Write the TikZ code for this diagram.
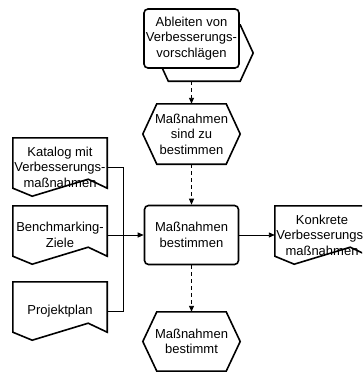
\documentclass[tikz,border=0pt]{standalone}
\usepackage{fontspec}
\setmainfont{Liberation Sans}
\usetikzlibrary{arrows.meta}
\begin{document}
\begin{tikzpicture}[x=1pt,y=-1pt,
  txt/.style={font=\fontsize{13}{15.5}\selectfont, align=center, inner sep=0pt},
  fnbox/.style={txt, draw, line width=1.6pt, rounded corners=4pt, fill=white,
                minimum width=95pt, minimum height=59pt},
  evbox/.style={txt, minimum width=97pt, minimum height=60pt},
  docbox/.style={txt, minimum width=94pt, minimum height=58pt},
  outline/.style={line width=1.6pt, line join=miter},
  link/.style={line width=0.9pt},
  flow/.style={link, -{Triangle[length=6pt,width=5pt]}},
  ctl/.style={flow, dash pattern=on 4pt off 3pt}
]
\useasboundingbox (0,0) rectangle (362,372);
\clip (0,0) rectangle (362,372);

% process interface: hexagon behind a function box
\node[evbox, minimum width=97.5pt, minimum height=56pt] (pb) at (204.25,53) {};
\draw[outline] (pb.west) -- ([xshift=13pt]pb.north west) -- ([xshift=-13pt]pb.north east)
  -- (pb.east) -- ([xshift=-13pt]pb.south east) -- ([xshift=13pt]pb.south west) -- cycle;
\node[fnbox] (pf) at (191.5,38.5) {Ableiten von\\Verbesserungs-\\vorschlägen};

% events
\node[evbox] (e1) at (191.5,134) {Maßnahmen\\sind zu\\bestimmen};
\draw[outline] (e1.west) -- ([xshift=14pt]e1.north west) -- ([xshift=-14pt]e1.north east)
  -- (e1.east) -- ([xshift=-14pt]e1.south east) -- ([xshift=14pt]e1.south west) -- cycle;

\node[evbox, minimum height=59pt] (e2) at (191.5,341.5) {Maßnahmen\\bestimmt};
\draw[outline] (e2.west) -- ([xshift=14pt]e2.north west) -- ([xshift=-14pt]e2.north east)
  -- (e2.east) -- ([xshift=-14pt]e2.south east) -- ([xshift=14pt]e2.south west) -- cycle;

% function
\node[fnbox, minimum width=94pt] (fn) at (191.5,235) {Maßnahmen\\bestimmen};

% documents
\node[docbox] (d1) at (60,167) {Katalog mit\\Verbesserungs-\\maßnahmen};
\node[docbox] (d2) at (60,235) {Benchmarking-\\Ziele};
\node[docbox] (d3) at (60,311) {Projektplan};
\node[docbox] (d4) at (322,235) {Konkrete\\Verbesserungs-\\maßnahmen};
\foreach \d in {d1,d2,d3,d4}{
  \draw[outline] ([yshift=8pt]\d.south west) -- (\d.north west) -- (\d.north east)
    -- ([yshift=8pt]\d.south east) -- ++(-19,-9) -- ++(-56,17) -- cycle;
}

% connectors
\coordinate (j) at (123,235);
\draw[link] (d1.east) -| (j);
\draw[link] (d3.east) -| (j);
\draw[flow] (d2.east) -- (fn.west);
\draw[flow] (fn.east) -- (d4.west);
\draw[ctl] (pb.south -| pf.south) -- (e1.north);
\draw[ctl] (e1.south) -- (fn.north);
\draw[ctl] (fn.south) -- (e2.north);
\end{tikzpicture}
\end{document}
